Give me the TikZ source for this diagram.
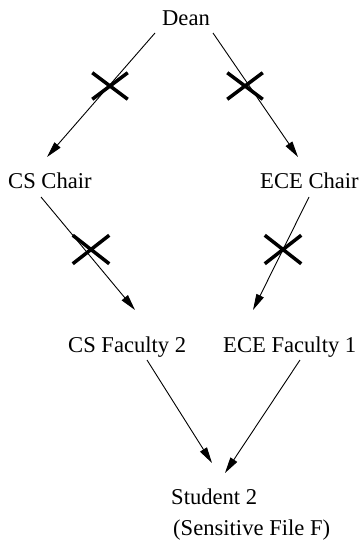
\documentclass[tikz,border=0pt]{standalone}
\usepackage{fontspec}
\setmainfont{Liberation Serif}
\usetikzlibrary{arrows.meta,shapes.misc}
\begin{document}
\begin{tikzpicture}[x=1pt,y=-1pt,
  lbl/.style={inner sep=0pt,font=\fontsize{22.6}{27}\selectfont},
  arr/.style={line width=0.9pt,-{Triangle[length=16pt,width=8pt]}},
  xmark/.style={cross out,draw,line width=3.5pt,inner sep=0pt,minimum width=32pt,minimum height=23pt},
  xmarkb/.style={xmark,minimum width=33pt,minimum height=25pt}]
\useasboundingbox (0,0) rectangle (362,551);
\node[lbl,anchor=base] (dean) at (186,26) {Dean};
\node[lbl,anchor=base west] (cschair) at (8,188) {CS Chair};
\node[lbl,anchor=base west] (ecechair) at (260,188) {ECE Chair};
\node[lbl,anchor=base west] (csfac) at (68,352) {CS Faculty 2};
\node[lbl,anchor=base west] (ecefac) at (223,352) {ECE Faculty 1};
\node[lbl,anchor=base west] (student) at (171,504) {Student 2};
\node[lbl,anchor=base west] (file) at (173,535) {(Sensitive File F)};
\draw[arr] ([shift={(-31,7)}]dean.base) -- ([shift={(39,-31)}]cschair.base west);
\draw[arr] ([shift={(27,7)}]dean.base) -- ([shift={(38,-31)}]ecechair.base west);
\draw[arr] ([shift={(33,9)}]cschair.base west) -- ([shift={(67,-42)}]csfac.base west);
\draw[arr] ([shift={(49,9)}]ecechair.base west) -- ([shift={(30,-42)}]ecefac.base west);
\draw[arr] ([shift={(79,8)}]csfac.base west) -- ([shift={(41,-41)}]student.base west);
\draw[arr] ([shift={(77,8)}]ecefac.base west) -- ([shift={(54,-31)}]student.base west);
\node[xmark] (x1) at (110,86) {};
\node[xmark] (x2) at (245,86) {};
\node[xmarkb] (x3) at (91,249.5) {};
\node[xmarkb] (x4) at (283,249.5) {};
\end{tikzpicture}
\end{document}
